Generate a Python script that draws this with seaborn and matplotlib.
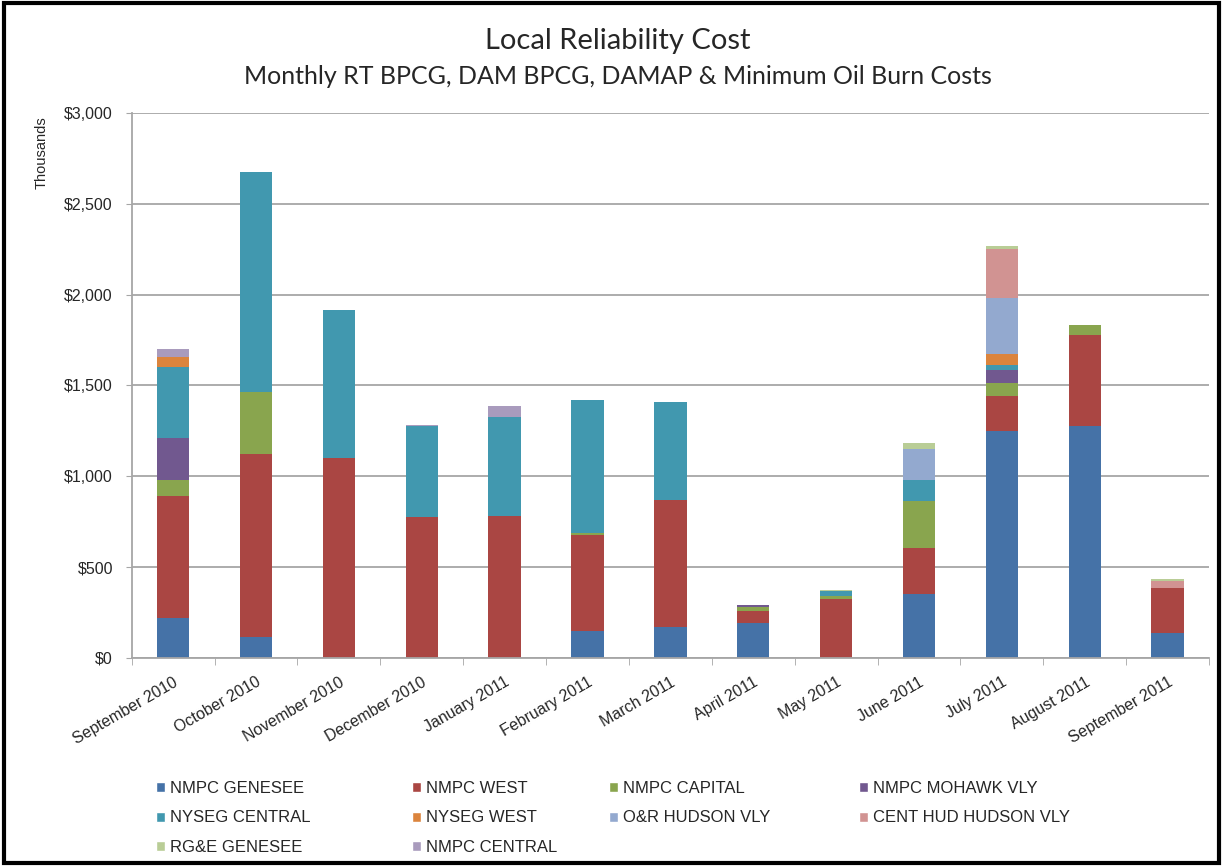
import numpy as np
import pandas as pd
import matplotlib.pyplot as plt
from matplotlib.patches import Patch, Rectangle
from matplotlib.ticker import FuncFormatter
import seaborn as sns

# Monthly costs in $ thousands
months = ['September 2010', 'October 2010', 'November 2010', 'December 2010',
          'January 2011', 'February 2011', 'March 2011', 'April 2011',
          'May 2011', 'June 2011', 'July 2011', 'August 2011', 'September 2011']

series = ['NMPC GENESEE', 'NMPC WEST', 'NMPC CAPITAL', 'NMPC MOHAWK VLY',
          'NYSEG CENTRAL', 'NYSEG WEST', 'O&R HUDSON VLY', 'CENT HUD HUDSON VLY',
          'RG&E GENESEE', 'NMPC CENTRAL']

nmpc_genesee   = [222, 114, 0, 0, 0, 149, 169, 191, 0, 351, 1248, 1277, 136]
nmpc_west      = [671, 1011, 1101, 776, 782, 526, 703, 66, 323, 253, 196, 501, 251]
nmpc_capital   = [87, 339, 0, 0, 0, 12, 0, 26, 20, 260, 70, 55, 0]
nmpc_mohawk    = [231, 0, 0, 0, 0, 0, 0, 9, 0, 0, 73, 0, 0]
nyseg_central  = [391, 1211, 815, 500, 545, 732, 539, 0, 24, 116, 28, 0, 0]
nyseg_west     = [57, 0, 0, 0, 0, 0, 0, 0, 0, 0, 59, 0, 0]
or_hudson      = [0, 0, 0, 0, 0, 0, 0, 0, 0, 172, 310, 0, 0]
cent_hud       = [0, 0, 0, 0, 0, 0, 0, 0, 0, 0, 269, 0, 35]
rge_genesee    = [0, 0, 0, 0, 0, 0, 0, 0, 6, 30, 15, 0, 15]
nmpc_central   = [42, 0, 0, 8, 60, 0, 0, 0, 0, 0, 0, 0, 0]

colors = ['#4572A7', '#AA4643', '#89A54E', '#71588F', '#4198AF',
          '#DB843D', '#93A9CF', '#D19392', '#B9CD96', '#A99BBD']

values = [nmpc_genesee, nmpc_west, nmpc_capital, nmpc_mohawk, nyseg_central,
          nyseg_west, or_hudson, cent_hud, rge_genesee, nmpc_central]

df = pd.DataFrame(dict(zip(series, values)), index=months)
cum = df.cumsum(axis=1)

sns.set_style('white')
plt.rcParams['font.family'] = ['Liberation Sans', 'DejaVu Sans']

fig = plt.figure(figsize=(12.23, 8.66), dpi=100)
ax = fig.add_axes([0.1077, 0.2402, 0.8809, 0.6293])

# stacked bars: draw cumulative totals from the top layer down
for name, color in reversed(list(zip(series, colors))):
    sns.barplot(x=months, y=cum[name].values, color=color, width=0.39,
                saturation=1, linewidth=0, ax=ax)

ax.set_ylim(0, 3000)
ax.set_xlim(-0.5, len(months) - 0.5)
ax.set_yticks(np.arange(0, 3001, 500))
ax.yaxis.set_major_formatter(FuncFormatter(lambda v, p: f'${v:,.0f}'))
ax.yaxis.grid(True, color='#A6A6A6', linewidth=1.3)
ax.set_axisbelow(True)
for s in ['top', 'right']:
    ax.spines[s].set_visible(False)
for s in ['left', 'bottom']:
    ax.spines[s].set_color('#A6A6A6')
    ax.spines[s].set_linewidth(1.3)

ax.tick_params(axis='y', labelsize=11.5, length=4.5, color='#A6A6A6', left=True,
               direction='out', pad=9)
ax.tick_params(axis='x', labelsize=11.5, length=0, pad=12)
ax.set_xticks(range(len(months)))
ax.set_xticklabels(months, rotation=30, ha='right', rotation_mode='anchor')
ax.set_xticks(np.arange(-0.5, len(months), 1), minor=True)
ax.tick_params(axis='x', which='minor', length=5, color='#A6A6A6', bottom=True,
               direction='out')
ax.set_xlabel('')
ax.set_ylabel('')

fig.text(0.034, 0.866, 'Thousands', rotation=90, fontsize=10.5, ha='center', va='top')

fig.text(0.505, 0.953, 'Local Reliability Cost', fontsize=21, ha='center',
         va='center', family=['Lato', 'DejaVu Sans'])
fig.text(0.505, 0.912, 'Monthly RT BPCG, DAM BPCG, DAMAP & Minimum Oil Burn Costs',
         fontsize=18, ha='center', va='center', family=['Lato', 'DejaVu Sans'])

# legend: one column per legend so the uneven column spacing can be matched
columns = [[0, 4, 8], [1, 5, 9], [2, 6], [3, 7]]
col_x = [141, 397, 594, 844]
for idx, x in zip(columns, col_x):
    handles = [Patch(facecolor=colors[i], label=series[i]) for i in idx]
    fig.legend(handles=handles, loc='upper left',
               bbox_to_anchor=(x / 1223, 1 - 766 / 866), frameon=False, fontsize=12,
               handlelength=0.55, handleheight=0.55, handletextpad=0.3,
               labelspacing=0.87)

fig.add_artist(Rectangle((0.003, 0.003), 0.994, 0.994, transform=fig.transFigure,
                         fill=False, edgecolor='black', linewidth=3))

plt.savefig('out.png', dpi=100)
